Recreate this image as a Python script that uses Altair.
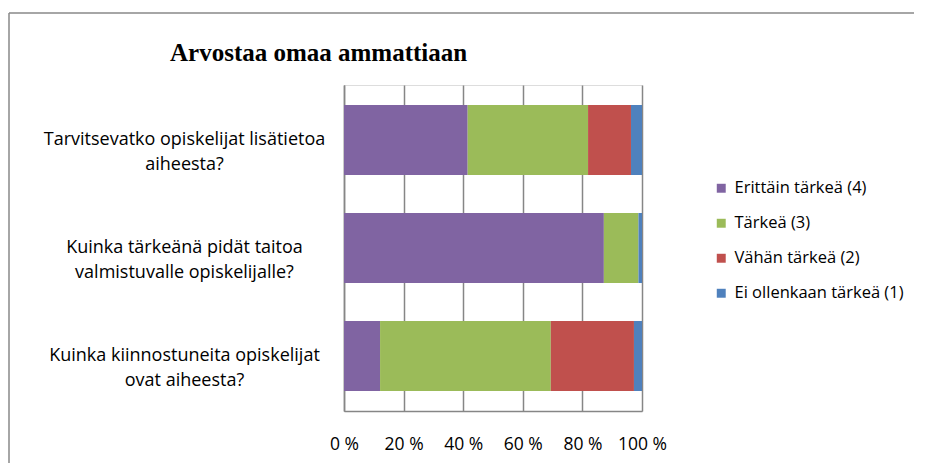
import altair as alt
import pandas as pd

questions = [
    "Tarvitsevatko opiskelijat lisätietoa|aiheesta?",
    "Kuinka tärkeänä pidät taitoa|valmistuvalle opiskelijalle?",
    "Kuinka kiinnostuneita opiskelijat|ovat aiheesta?",
]
levels = ["Erittäin tärkeä (4)", "Tärkeä (3)", "Vähän tärkeä (2)", "Ei ollenkaan tärkeä (1)"]
colors = ["#8064A2", "#9BBB59", "#C0504D", "#4F81BD"]

erittain = [41.5, 87.2, 12.1]
tarkea = [40.4, 11.6, 57.3]
vahan = [14.4, 0.0, 27.9]
ei = [3.7, 1.2, 2.7]

series = [erittain, tarkea, vahan, ei]
rows = []
for li, (lvl, vals) in enumerate(zip(levels, series)):
    for q, v in zip(questions, vals):
        rows.append({"kysymys": q, "vastaus": lvl, "osuus": v, "jarjestys": li})
df = pd.DataFrame(rows)

FONT = "Open Sans"

bars = alt.Chart(df).mark_bar().encode(
    y=alt.Y("kysymys:N", sort=questions, title=None,
            scale=alt.Scale(paddingInner=0.352, paddingOuter=0.185),
            axis=alt.Axis(labelExpr="split(datum.label, '|')", labelAlign="center",
                          labelBaseline="middle", labelPadding=160, labelLimit=400,
                          labelLineHeight=25, labelFont=FONT, labelFontSize=18,
                          labelColor="#000000", ticks=False, tickSize=0,
                          domain=True, domainColor="#868686", domainWidth=1.5,
                          grid=False)),
    x=alt.X("osuus:Q", stack="normalize", title=None,
            scale=alt.Scale(domain=[0, 1], nice=False),
            axis=alt.Axis(values=[0, 0.2, 0.4, 0.6, 0.8, 1.0],
                          labelExpr="round(datum.value*100) + ' %'",
                          labelFont=FONT, labelFontSize=17.5, labelColor="#000000",
                          labelPadding=24, ticks=False, tickSize=0,
                          domain=True, domainColor="#868686", domainWidth=1.5,
                          grid=True, gridColor="#868686", gridWidth=1.5,
                          labelFlush=False)),
    color=alt.Color("vastaus:N", sort=levels,
                    scale=alt.Scale(domain=levels, range=colors),
                    legend=alt.Legend(title=None, orient="none", legendX=369, legendY=95,
                                      symbolType="square", symbolSize=80,
                                      symbolStrokeWidth=0, labelFont=FONT,
                                      labelFontSize=16.5, labelColor="#000000",
                                      rowPadding=18, labelOffset=5, labelLimit=300)),
    order=alt.Order("jarjestys:Q", sort="ascending"),
)

border = pd.DataFrame({"k": [0]})
frame_top = alt.Chart(border).mark_rule(color="#898989", strokeWidth=1.5).encode(
    x=alt.value(-335), x2=alt.value(570), y=alt.value(-72))
frame_left = alt.Chart(border).mark_rule(color="#898989", strokeWidth=1.5).encode(
    x=alt.value(-335), y=alt.value(-72), y2=alt.value(380))

title = alt.Chart(pd.DataFrame({"t": ["Arvostaa omaa ammattiaan"]})).mark_text(
    font="Liberation Serif", fontSize=25, fontWeight="bold", align="left",
    baseline="alphabetic", color="#000000"
).encode(text="t:N", x=alt.value(-174), y=alt.value(-24))

chart = alt.layer(frame_top, frame_left, bars, title).properties(
    width=298, height=326,
    autosize=alt.AutoSizeParams(type="none"),
    padding={"left": 336, "top": 77, "right": 275, "bottom": 52},
).configure_view(stroke=None).configure(background="#ffffff")

chart.save("out.html", embed_options={"renderer": "svg", "actions": False})
